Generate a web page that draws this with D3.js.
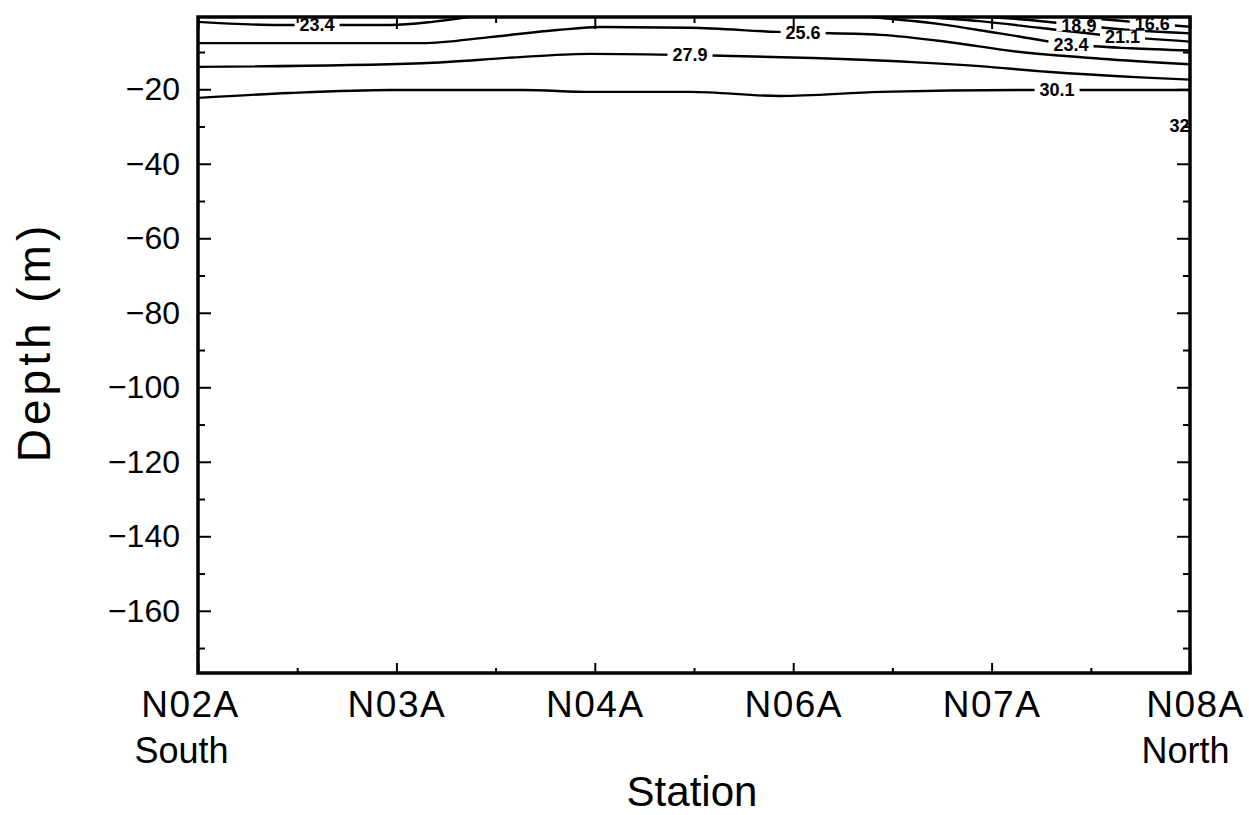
<!DOCTYPE html>
<html>
<head>
<meta charset="utf-8">
<script src="https://cdn.jsdelivr.net/npm/d3@7"></script>
<style>
  body { margin: 0; background: #fff; }
  text { font-family: "Liberation Sans", Arial, Helvetica, sans-serif; fill: #000; }
</style>
</head>
<body>
<div id="chart"></div>
<script>
var stations = ["N02A", "N03A", "N04A", "N06A", "N07A", "N08A"];
var stationNotes = ["South", "", "", "", "", "North"];
var depthTicks = [-20, -40, -60, -80, -100, -120, -140, -160];
var depthMinorTicks = [-10, -30, -50, -70, -90, -110, -130, -150, -170];
var stationMinorTicks = [0.5, 1.5, 2.5, 3.5, 4.5];

// isohalines: position (station index) and depth (m)
var c166x = [4.42, 4.65, 4.81, 5.0];
var c166d = [0.6, 1.6, 2.4, 3.2];
var c189x = [3.97, 4.19, 4.43, 4.65, 5.0];
var c189d = [0.6, 1.4, 2.75, 3.9, 5.0];
var c211x = [3.66, 3.94, 4.24, 4.6, 5.0];
var c211d = [0.6, 1.7, 3.5, 5.6, 7.2];
var c234ax = [0, 0.41, 0.97, 1.18, 1.36];
var c234ad = [1.9, 2.75, 2.75, 1.9, 0.6];
var c234bx = [3.39, 3.74, 4.04, 4.41, 4.7, 5.0];
var c234bd = [0.6, 2.5, 5.0, 8.0, 9.0, 9.6];
var c256x = [0, 1.13, 1.47, 1.81, 2.03, 2.48, 2.92, 3.44, 3.78, 4.11, 4.55, 5.0];
var c256d = [7.6, 7.6, 6.0, 4.1, 3.3, 3.5, 4.6, 5.4, 7.3, 9.8, 11.8, 13.3];
var c279x = [0, 1.13, 1.64, 1.98, 2.48, 3.1, 3.6, 3.94, 4.28, 4.75, 5.0];
var c279d = [14.0, 13.0, 11.3, 10.5, 10.8, 11.6, 12.7, 13.8, 15.3, 16.8, 17.4];
var c301x = [0, 0.46, 0.97, 1.64, 1.98, 2.48, 2.93, 3.44, 4.19, 5.0];
var c301d = [22.3, 21.0, 20.2, 20.2, 20.7, 20.7, 21.8, 20.7, 20.2, 20.2];
var c324x = [4.95, 5.0];
var c324d = [29.6, 29.6];

var contours = [
  { label: "16.6", xs: c166x, ds: c166d, labelAt: 4.81 },
  { label: "18.9", xs: c189x, ds: c189d, labelAt: 4.44 },
  { label: "21.1", xs: c211x, ds: c211d, labelAt: 4.66 },
  { label: "23.4", xs: c234ax, ds: c234ad, labelAt: 0.6 },
  { label: "23.4", xs: c234bx, ds: c234bd, labelAt: 4.40 },
  { label: "25.6", xs: c256x, ds: c256d, labelAt: 3.05 },
  { label: "27.9", xs: c279x, ds: c279d, labelAt: 2.48 },
  { label: "30.1", xs: c301x, ds: c301d, labelAt: 4.33 },
  { label: "32.4", xs: c324x, ds: c324d, labelAt: 4.985 }
];

var width = 1249, height = 815;
var plotLeft = 198, plotRight = 1190, plotTop = 17, plotBottom = 673;

var svg = d3.select("#chart").append("svg")
    .attr("width", width)
    .attr("height", height);

var x = d3.scaleLinear().domain([0, stations.length - 1]).range([plotLeft, plotRight]);
var y = d3.scaleLinear().domain([-0.6, -176.7]).range([plotTop, plotBottom]);

svg.append("clipPath").attr("id", "plot-clip")
  .append("rect")
    .attr("x", plotLeft).attr("y", plotTop)
    .attr("width", plotRight - plotLeft).attr("height", plotBottom - plotTop);

var line = d3.line()
    .x(function(d) { return x(d[0]); })
    .y(function(d) { return y(-d[1]); })
    .curve(d3.curveMonotoneX);

var plot = svg.append("g").attr("clip-path", "url(#plot-clip)");

var paths = plot.selectAll("path.contour")
  .data(contours)
  .enter().append("path")
    .attr("class", "contour")
    .attr("fill", "none")
    .attr("stroke", "#000")
    .attr("stroke-width", 2.4)
    .attr("d", function(c) { return line(d3.zip(c.xs, c.ds)); });

// find the point of a path at a given x
function pointAtX(node, px) {
  var lo = 0, hi = node.getTotalLength();
  for (var i = 0; i < 30; i++) {
    var mid = (lo + hi) / 2;
    if (node.getPointAtLength(mid).x < px) lo = mid; else hi = mid;
  }
  return node.getPointAtLength((lo + hi) / 2);
}

var labels = plot.append("g");
paths.each(function(c) {
  var p = pointAtX(this, x(c.labelAt));
  var g = labels.append("g");
  var bg = g.append("rect").attr("fill", "#fff");
  var t = g.append("text")
      .attr("x", p.x)
      .attr("y", p.y)
      .attr("dy", "0.36em")
      .attr("text-anchor", "middle")
      .style("font-size", "18px")
      .style("font-weight", "bold")
      .text(c.label);
  var w = t.node().getComputedTextLength();
  bg.attr("x", p.x - w / 2 - 5)
    .attr("y", p.y - 6)
    .attr("width", w + 10)
    .attr("height", 12);
});

// axes with inward ticks
function styleAxis(g) {
  g.select(".domain").remove();
  g.selectAll(".tick line").attr("stroke", "#000").attr("stroke-width", 2);
}

svg.append("g")
    .attr("transform", "translate(" + plotLeft + ",0)")
    .call(d3.axisLeft(y).tickValues(depthTicks).tickSize(-13).tickPadding(18))
    .call(styleAxis)
  .selectAll("text")
    .style("font-size", "32px");

svg.append("g")
    .attr("transform", "translate(" + plotLeft + ",0)")
    .call(d3.axisLeft(y).tickValues(depthMinorTicks).tickSize(-7).tickFormat(""))
    .call(styleAxis);

svg.append("g")
    .attr("transform", "translate(" + plotRight + ",0)")
    .call(d3.axisRight(y).tickValues(depthTicks).tickSize(-13).tickFormat(""))
    .call(styleAxis);

svg.append("g")
    .attr("transform", "translate(" + plotRight + ",0)")
    .call(d3.axisRight(y).tickValues(depthMinorTicks).tickSize(-7).tickFormat(""))
    .call(styleAxis);

var xAxis = svg.append("g")
    .attr("transform", "translate(0," + plotBottom + ")")
    .call(d3.axisBottom(x).tickValues(d3.range(stations.length)).tickSize(-10).tickPadding(18)
      .tickFormat(function(i) { return stations[i]; }))
    .call(styleAxis);

xAxis.selectAll("text")
    .style("font-size", "37px")
    .style("letter-spacing", "1.5px")
    .attr("dx", function(i) { return i === 0 ? -8 : (i === stations.length - 1 ? 5 : 0); });

xAxis.selectAll(".tick")
  .append("text")
    .attr("y", 90)
    .attr("dx", function(i) { return i === 0 ? -17 : -5; })
    .attr("text-anchor", "middle")
    .style("font-size", "36px")
    .text(function(i) { return stationNotes[i]; });

svg.append("g")
    .attr("transform", "translate(0," + plotBottom + ")")
    .call(d3.axisBottom(x).tickValues(stationMinorTicks).tickSize(-5).tickFormat(""))
    .call(styleAxis);

svg.append("g")
    .attr("transform", "translate(0," + plotTop + ")")
    .call(d3.axisTop(x).tickValues(d3.range(stations.length)).tickSize(-12).tickFormat(""))
    .call(styleAxis);

svg.append("g")
    .attr("transform", "translate(0," + plotTop + ")")
    .call(d3.axisTop(x).tickValues(stationMinorTicks).tickSize(-6).tickFormat(""))
    .call(styleAxis);

// frame
svg.append("rect")
    .attr("x", plotLeft).attr("y", plotTop)
    .attr("width", plotRight - plotLeft).attr("height", plotBottom - plotTop)
    .attr("fill", "none")
    .attr("stroke", "#000")
    .attr("stroke-width", 3.5);

svg.append("text")
    .attr("x", 692)
    .attr("y", 806)
    .attr("text-anchor", "middle")
    .style("font-size", "42px")
    .text("Station");

svg.append("text")
    .attr("transform", "translate(50,342) rotate(-90)")
    .attr("text-anchor", "middle")
    .style("font-size", "46px")
    .style("letter-spacing", "4px")
    .text("Depth (m)");
</script>
</body>
</html>
